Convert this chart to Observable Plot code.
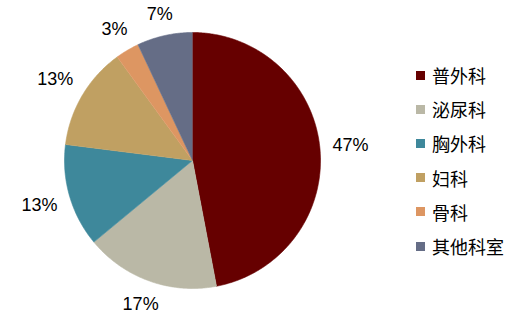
<!DOCTYPE html>
<html><head><meta charset="utf-8">
<script src="https://cdn.jsdelivr.net/npm/d3@7"></script>
<script src="https://cdn.jsdelivr.net/npm/@observablehq/plot@0.6"></script>
<style>
body{margin:0;background:#fff;}
#chart{position:relative;width:525px;height:319px;overflow:hidden;}
#legend{position:absolute;left:416px;top:58px;font-family:"Noto Sans CJK SC","Noto Sans",sans-serif;font-size:18px;color:#000;}
.row{display:flex;align-items:center;height:34.2px;}
.sw{width:9px;height:9px;margin-right:7px;flex:none;}
</style></head><body><div id="chart"></div>
<script>
// Data
const departments = ["普外科", "泌尿科", "胸外科", "妇科", "骨科", "其他科室"];
const shares = [47, 17, 13, 13, 3, 7];
const colors = ["#660000", "#BAB8A6", "#3E889B", "#C0A062", "#DD9662", "#656D86"];
const labels = shares.map(v => v + "%");

// Layout
const CX = 192, CY = 160, R = 128;
const total = d3.sum(shares);

// Slice outlines (unit circle, angle clockwise from 12 o'clock)
const slicePoints = [];
const labelData = [];
let cum = 0;
shares.forEach((v, i) => {
  const a0 = cum / total * 2 * Math.PI;
  const a1 = (cum + v) / total * 2 * Math.PI;
  cum += v;
  const n = Math.max(2, Math.ceil((a1 - a0) / (Math.PI / 360)));
  slicePoints.push({dept: departments[i], x: 0, y: 0});
  for (let k = 0; k <= n; k++) {
    const a = a0 + (a1 - a0) * k / n;
    slicePoints.push({dept: departments[i], x: Math.sin(a), y: Math.cos(a)});
  }
  const am = (a0 + a1) / 2;
  const s = Math.sin(am), c = Math.cos(am);
  const w = 18 * (0.556 * (labels[i].length - 1) + 0.889);
  const h = 15;
  const r = (R + 12 + (w / 2) * Math.abs(s) + (h / 2) * Math.abs(c)) / R;
  labelData.push({text: labels[i], x: r * s, y: r * c});
});

const plot = Plot.plot({
  width: 525,
  height: 319,
  margin: 0,
  x: {domain: [-1, 1], range: [CX - R, CX + R], axis: null},
  y: {domain: [-1, 1], range: [CY + R, CY - R], axis: null},
  color: {domain: departments, range: colors},
  marks: [
    Plot.line(slicePoints, {x: "x", y: "y", z: "dept", fill: "dept", stroke: "dept", strokeWidth: 0.6, curve: "linear"}),
    Plot.text(labelData, {x: "x", y: "y", text: "text", fontSize: 18, fontFamily: "'Liberation Sans', Arial, sans-serif", fill: "#000", textAnchor: "middle", lineAnchor: "middle"})
  ]
});

const chart = document.getElementById("chart");
chart.appendChild(plot);

// Legend
const legend = document.createElement("div");
legend.id = "legend";
departments.forEach((d, i) => {
  const row = document.createElement("div");
  row.className = "row";
  const sw = document.createElement("div");
  sw.className = "sw";
  sw.style.background = colors[i];
  const t = document.createElement("span");
  t.textContent = d;
  row.appendChild(sw);
  row.appendChild(t);
  legend.appendChild(row);
});
chart.appendChild(legend);
</script>
</body></html>
